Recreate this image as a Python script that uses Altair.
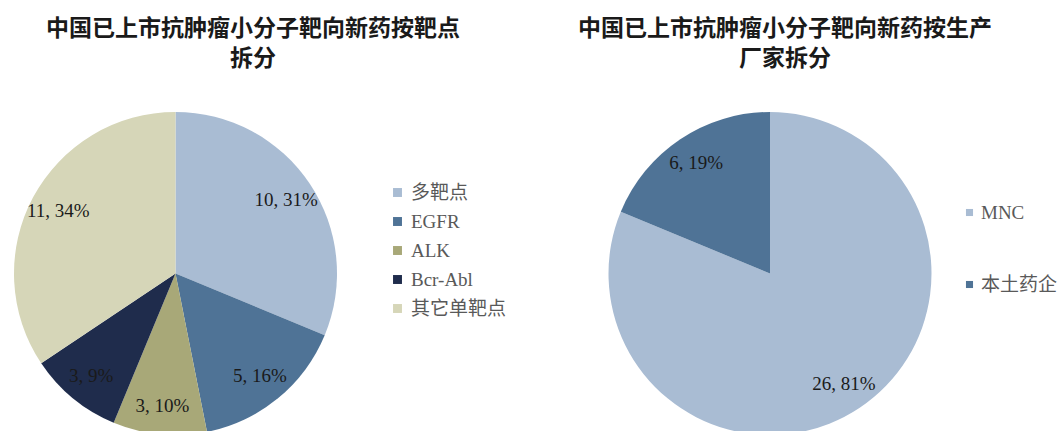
import altair as alt
import pandas as pd

# ---- data ----
target_names = ["多靶点", "EGFR", "ALK", "Bcr-Abl", "其它单靶点"]
target_counts = [10, 5, 3, 3, 11]
target_labels = ["10, 31%", "5, 16%", "3, 10%", "3, 9%", "11, 34%"]
target_colors = ["#A9BCD3", "#4F7396", "#A8A878", "#1F2C4C", "#D6D6B8"]

maker_names = ["MNC", "本土药企"]
maker_counts = [26, 6]
maker_labels = ["26, 81%", "6, 19%"]
maker_colors = ["#A9BCD3", "#4F7396"]

title_left = "中国已上市抗肿瘤小分子靶向新药按靶点\n拆分"
title_right = "中国已上市抗肿瘤小分子靶向新药按生产\n厂家拆分"

FONT = "Liberation Serif, Noto Sans CJK SC"

df_t = pd.DataFrame({"name": target_names, "count": target_counts,
                     "label": target_labels, "idx": range(len(target_names))})
df_m = pd.DataFrame({"name": maker_names, "count": maker_counts,
                     "label": maker_labels, "idx": range(len(maker_names))})

R = 161.5
LX, LY = 175.5, 273.5
RX, RY = 770, 273.5


def pie(df, names, colors, cx, cy, lx, ly, row_pad, lsize, sym, loff):
    base = alt.Chart(df).encode(
        theta=alt.Theta("count:Q", stack=True),
        order=alt.Order("idx:Q"),
        x=alt.value(cx), y=alt.value(cy),
    )
    arc = base.mark_arc(outerRadius=R, stroke=None).encode(
        color=alt.Color(
            "name:N",
            scale=alt.Scale(domain=names, range=colors),
            sort=names,
            legend=alt.Legend(
                title=None, orient="none", legendX=lx, legendY=ly,
                symbolType="square", symbolSize=sym, symbolStrokeWidth=0,
                labelFont=FONT, labelFontSize=lsize, labelColor="#595959",
                rowPadding=row_pad, labelOffset=loff,
            ),
        )
    )
    txt = base.mark_text(radius=133, font=FONT, fontSize=19, color="#1a1a1a").encode(
        text="label:N"
    )
    return arc + txt


left = pie(df_t, target_names, target_colors, LX, LY, 388, 183, 9, 19, 80, 4)
right = pie(df_m, maker_names, maker_colors, RX, RY, 960, 203, 52, 19, 50, 2)

titles = pd.DataFrame({"t": [title_left, title_right], "cx": [253, 785]})
title_layer = alt.Chart(titles).mark_text(
    font=FONT, fontSize=23, fontWeight="bold", color="#1a1a1a",
    lineBreak="\n", lineHeight=30, baseline="top", align="center",
).encode(
    x=alt.X("cx:Q", scale=alt.Scale(domain=[0, 1061]), axis=None),
    y=alt.value(18),
    text="t:N",
)

chart = alt.layer(left, right, title_layer).resolve_scale(
    color="independent", theta="independent"
).properties(
    width=1061, height=431, padding=0, autosize=alt.AutoSizeParams(type="none"),
    background="white",
).configure_view(stroke=None)

chart.save("out.html", embed_options={"renderer": "svg", "actions": False})
